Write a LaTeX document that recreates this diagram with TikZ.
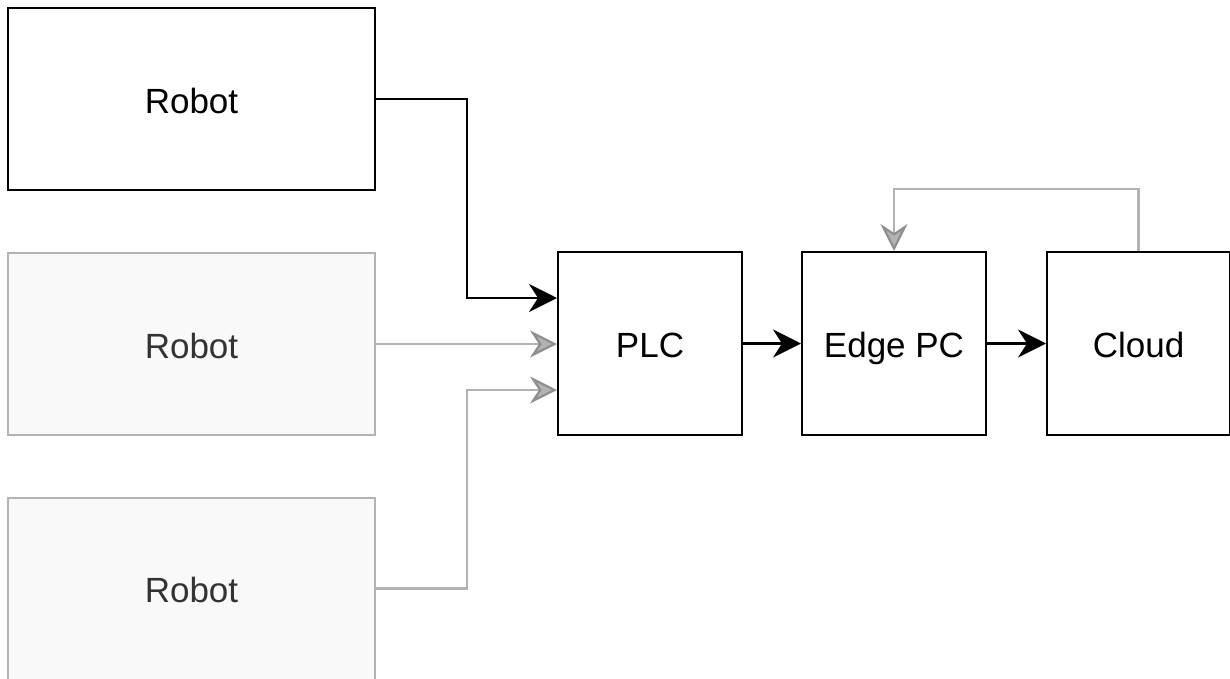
\documentclass[tikz,border=0pt]{standalone}
\usepackage{fontspec}
\setmainfont{Liberation Sans}
\usepackage{xcolor}
\usetikzlibrary{arrows.meta,positioning,calc}
\definecolor{fadeline}{HTML}{B3B3B3}
\definecolor{fadefill}{HTML}{F9F9F9}
\definecolor{fadetext}{HTML}{333333}
\tikzset{
	blk/.style={draw, line width=2pt, fill=white, align=center,
		font=\fontsize{35}{42}\selectfont, text height=28pt, text depth=0pt},
	dev/.style={blk, minimum width=367pt, minimum height=182pt},
	devfade/.style={dev, draw=fadeline, fill=fadefill, text=fadetext},
	unit/.style={blk, minimum width=184pt, minimum height=183pt},
	lnk/.style={line width=2.2pt, -{Stealth[length=28pt, width=28pt, inset=9pt]}},
	lnkfade/.style={lnk, draw=fadeline, -{Stealth[length=27pt, width=27pt, inset=9pt, color=fadeline!80!black, fill=fadeline]}},
}

\begin{document}
\begin{tikzpicture}[x=1pt, y=-1pt]
				\useasboundingbox (0,0) rectangle (1230,678);
				\clip (0,0) rectangle (1230,678);
				\node[dev] at (191.5,99.0) (rob1) {Robot};
				\node[devfade] at (191.5,344.0) (rob2) {Robot};
				\node[devfade] at (191.5,588.5) (rob3) {Robot};
				\node[unit] at (650.0,343.5) (plc) {PLC};
				\node[unit] at (894.0,343.5) (edge) {Edge PC};
				\node[unit, minimum width=183pt] at (1138.5,343.5) (cloud) {Cloud};
				\draw[lnk] (rob1.east) -- ++(91,0) |- ([yshift=45.5pt]plc.west);
				\draw[lnkfade] (rob2.east) -- (rob2.east -| plc.west);
				\draw[lnkfade] (rob3.east) -- ++(91,0) |- ([yshift=-46.5pt]plc.west);
				\draw[lnk] (plc) -- (edge);
				\draw[lnk] (edge) -- (cloud);
				\draw[lnkfade] (cloud.north) -- ++(0,-62) -| (edge.north);
			\end{tikzpicture}
\end{document}
